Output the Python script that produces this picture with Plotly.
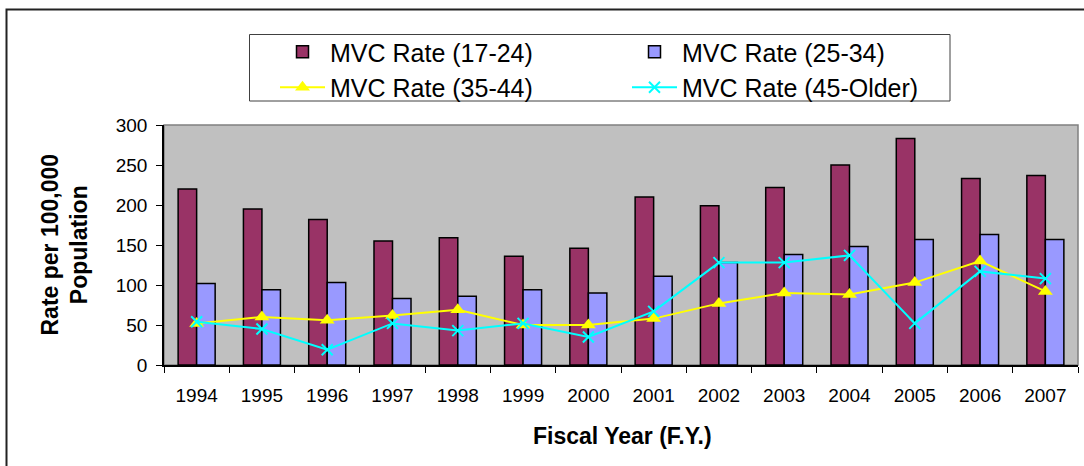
import plotly.graph_objects as go

years = ["1994", "1995", "1996", "1997", "1998", "1999", "2000",
         "2001", "2002", "2003", "2004", "2005", "2006", "2007"]
rate_17_24 = [220, 195, 182, 155, 159, 136, 146, 210, 199, 222, 250, 283, 233, 237]
rate_25_34 = [102, 94, 103, 83, 86, 94, 90, 111, 128, 138, 148, 157, 163, 157]
rate_35_44 = [52, 60, 56, 62, 69, 50, 50, 58, 77, 90, 88, 103, 130, 92]
rate_45_up = [54, 45, 19, 52, 43, 52, 35, 67, 128, 128, 137, 52, 117, 108]

FONT = "Liberation Sans, Arial, sans-serif"
L, R, T, B = 164, 6, 125, 101
W, H = 1084, 466
pw, ph = W - L - R, H - T - B

def px(x):
    return (x - L) / pw

def py(y):
    return (H - B - y) / ph

fig = go.Figure()
fig.add_trace(go.Bar(x=years, y=rate_17_24, name="MVC Rate (17-24)",
                     marker=dict(color="#993366", line=dict(color="black", width=1.5))))
fig.add_trace(go.Bar(x=years, y=rate_25_34, name="MVC Rate (25-34)",
                     marker=dict(color="#9999FF", line=dict(color="black", width=1.5))))
fig.add_trace(go.Scatter(x=years, y=rate_35_44, name="MVC Rate (35-44)", mode="lines+markers",
                         line=dict(color="#FFFF00", width=2),
                         marker=dict(symbol="triangle-up", size=13, color="#FFFF00")))
fig.add_trace(go.Scatter(x=years, y=rate_45_up, name="MVC Rate (45-Older)", mode="lines+markers",
                         line=dict(color="#00FFFF", width=2),
                         marker=dict(symbol="x-thin", size=11, color="#00FFFF",
                                     line=dict(color="#00FFFF", width=2))))

fig.update_layout(
    width=W, height=H,
    margin=dict(l=L, r=R, t=T, b=B, autoexpand=False),
    paper_bgcolor="white",
    plot_bgcolor="#C0C0C0",
    font=dict(family=FONT, color="black"),
    barmode="group", bargap=0.433, bargroupgap=0,
    showlegend=True,
    legend=dict(orientation="h", x=px(275), xanchor="left", y=py(29), yanchor="top",
                font=dict(size=25, family=FONT), itemwidth=45, entrywidth=292,
                bgcolor="rgba(0,0,0,0)", borderwidth=0, traceorder="normal"),
    xaxis=dict(type="category", range=[-0.5, len(years) - 0.5], tickson="boundaries",
               ticks="outside", ticklen=6,
               tickcolor="black", showline=True, linecolor="black", linewidth=1.5,
               showgrid=False, tickfont=dict(size=19, family=FONT),
               ticklabelstandoff=12, fixedrange=True),
    yaxis=dict(range=[0, 300], tickvals=[0, 50, 100, 150, 200, 250, 300],
               ticks="outside", ticklen=6, tickcolor="black", showline=True,
               linecolor="black", linewidth=1.5, showgrid=False, zeroline=False,
               tickfont=dict(size=19, family=FONT), ticklabelstandoff=5, fixedrange=True),
)

shapes = [
    # plot area border
    dict(type="rect", xref="paper", yref="paper", x0=0, x1=1, y0=0, y1=1,
         line=dict(color="#808080", width=1.5), layer="below"),
    # legend box
    dict(type="rect", xref="paper", yref="paper", x0=px(249.5), x1=px(950), y0=py(101), y1=py(34.5),
         line=dict(color="#404040", width=1), fillcolor="rgba(0,0,0,0)"),
    # outer frame
    dict(type="rect", xref="paper", yref="paper", x0=px(6.5), x1=px(1100), y0=py(490), y1=py(9.5),
         line=dict(color="#222222", width=2), fillcolor="rgba(0,0,0,0)"),
]
fig.update_layout(shapes=shapes)

fig.add_annotation(text="<b>Rate per 100,000<br>Population</b>", xref="paper", yref="paper",
                   x=px(64.5), y=0.5, xanchor="center", yanchor="middle", textangle=-90,
                   showarrow=False, font=dict(size=23, family=FONT))
fig.add_annotation(text="<b>Fiscal Year (F.Y.)</b>", xref="paper", yref="paper",
                   x=px(622.5), y=py(435.5), xanchor="center", yanchor="middle",
                   showarrow=False, font=dict(size=23, family=FONT))

fig.write_html("out.html", config={"displayModeBar": False},
               post_script="document.body.style.margin='0';document.body.style.overflow='hidden';")
